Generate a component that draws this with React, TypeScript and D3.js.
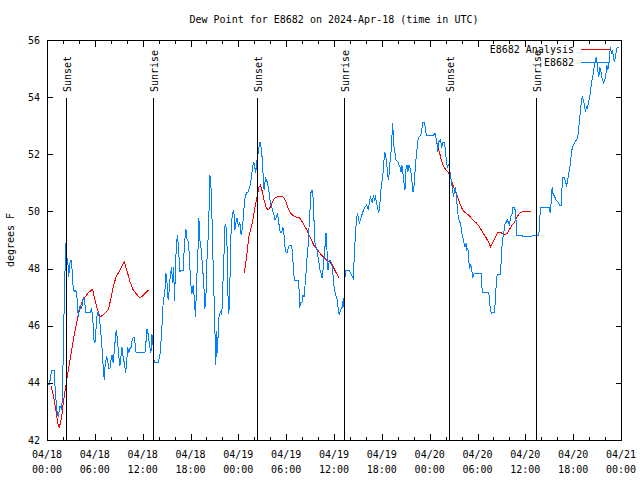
import React from "react";
import * as d3 from "d3";

const TITLE = "Dew Point for E8682 on 2024-Apr-18 (time in UTC)";
const Y_LABEL = "degrees F";
const START = Date.UTC(2024, 3, 18, 0, 0);
const END = Date.UTC(2024, 3, 21, 0, 0);
const yTicks = [42, 44, 46, 48, 50, 52, 54, 56];
const legendNames = ["E8682 Analysis", "E8682"];

const sunEvents = [
  { label: "Sunset", h: 2.33 },
  { label: "Sunrise", h: 13.33 },
  { label: "Sunset", h: 26.38 },
  { label: "Sunrise", h: 37.3 },
  { label: "Sunset", h: 50.45 },
  { label: "Sunrise", h: 61.38 },
];

// hours since 2024-04-18 00:00 UTC, dew point (F)
const analysisSeg1: [number, number][] = [[0.50,43.9],[0.79,43.57],[1.09,43.1],[1.34,42.6],[1.54,42.45],[1.72,42.63],[1.88,42.9],[2.04,43.28],[2.26,43.7],[2.47,44.1],[2.67,44.45],[2.88,44.8],[3.10,45.15],[3.30,45.5],[3.51,45.8],[3.72,46.1],[3.92,46.37],[4.14,46.6],[4.35,46.8],[4.55,46.97],[4.76,47.0],[5.18,47.15],[5.73,47.28],[6.01,46.9],[6.30,46.6],[6.64,46.3],[7.14,46.4],[7.68,46.55],[7.98,46.9],[8.31,47.36],[8.65,47.7],[9.15,47.95],[9.69,48.23],[10.06,47.9],[10.40,47.55],[10.81,47.25],[11.32,47.08],[11.65,46.97],[12.15,47.08],[12.74,47.25]];
const analysisSeg2: [number, number][] = [[24.72,47.84],[24.94,48.2],[25.15,48.7],[25.35,49.17],[25.78,49.63],[26.06,50.12],[26.35,50.5],[26.60,50.86],[26.78,50.92],[27.02,50.68],[27.23,50.4],[27.48,50.15],[27.73,50.05],[28.03,50.15],[28.28,50.33],[28.57,50.47],[28.86,50.5],[29.20,50.54],[29.61,50.5],[29.82,50.44],[30.11,50.22],[30.45,49.98],[30.79,49.87],[31.29,49.8],[31.70,49.77],[32.04,49.63],[32.33,49.46],[32.62,49.35],[32.87,49.17],[33.17,49.0],[33.46,48.82],[33.80,48.72],[34.12,48.58],[34.42,48.47],[34.71,48.4],[35.05,48.3],[35.46,48.23],[35.80,48.12],[36.09,47.95],[36.38,47.8],[36.63,47.67]];
const analysisSeg3: [number, number][] = [[48.87,52.43],[49.03,52.22],[49.25,52.05],[49.46,51.8],[49.66,51.63],[49.87,51.52],[50.08,51.45],[50.28,51.38],[50.50,51.28],[50.71,51.1],[50.91,50.92],[51.13,50.75],[51.34,50.64],[51.54,50.47],[51.75,50.3],[51.97,50.15],[52.17,50.05],[52.38,49.98],[52.59,49.94],[53.01,49.84],[53.42,49.7],[53.85,49.6],[54.26,49.46],[54.67,49.25],[55.10,49.07],[55.42,48.9],[55.64,48.76],[55.93,48.93],[56.23,49.1],[56.55,49.25],[56.98,49.25],[57.39,49.2],[57.73,49.22],[58.02,49.38],[58.36,49.53],[58.65,49.63],[58.93,49.8],[59.27,49.94],[59.68,50.0],[60.11,50.0],[60.73,50.0]];

const stationObs: [number, number][] = [[0.10,43.93],[0.29,43.93],[0.59,44.45],[0.88,44.45],[1.00,43.9],[1.22,43.05],[1.42,42.8],[1.63,43.2],[1.84,43.05],[1.97,43.75],[2.04,45.3],[2.17,46.8],[2.34,48.9],[2.47,48.2],[2.59,48.35],[2.72,47.7],[2.88,48.2],[3.01,48.3],[3.17,47.9],[3.30,47.25],[3.51,47.2],[3.63,47.25],[3.80,46.9],[3.92,46.3],[4.05,46.65],[4.22,46.7],[4.35,46.6],[4.47,46.9],[4.64,46.97],[4.76,46.75],[4.89,46.45],[5.10,46.45],[5.39,46.45],[5.60,46.6],[5.73,46.3],[5.89,45.5],[6.01,45.4],[6.14,45.85],[6.30,46.45],[6.43,46.45],[6.55,46.3],[6.73,45.85],[6.89,45.25],[7.05,44.55],[7.18,44.1],[7.31,44.7],[7.48,44.9],[7.61,44.8],[7.73,44.5],[7.89,44.5],[8.02,44.8],[8.15,44.97],[8.31,44.7],[8.43,45.1],[8.56,45.5],[8.68,45.85],[8.81,45.6],[8.98,45.0],[9.15,44.6],[9.27,44.9],[9.40,45.25],[9.56,44.9],[9.69,44.7],[9.86,44.35],[9.99,44.7],[10.11,45.25],[10.24,45.05],[10.40,45.2],[10.56,45.25],[10.69,45.5],[10.86,45.6],[10.99,45.6],[11.11,45.08],[11.44,45.05],[11.87,45.05],[12.28,45.05],[12.41,45.4],[12.53,45.9],[12.66,45.75],[12.78,45.5],[12.91,45.25],[13.03,45.05],[13.16,45.7],[13.28,45.4],[13.37,44.97],[13.45,44.73],[13.95,44.73],[14.16,44.97],[14.29,45.4],[14.41,45.95],[14.57,46.8],[14.79,47.2],[14.91,47.85],[15.04,47.55],[15.20,46.9],[15.33,47.25],[15.45,47.7],[15.63,48.06],[15.75,47.5],[15.88,48.06],[16.00,46.85],[16.13,48.2],[16.25,48.9],[16.38,49.17],[16.50,48.65],[16.67,47.9],[16.88,47.95],[17.08,47.95],[17.26,48.93],[17.42,49.4],[17.54,49.06],[17.76,48.9],[18.01,47.55],[18.17,47.1],[18.33,47.43],[18.46,47.0],[18.63,46.3],[18.76,47.5],[18.92,48.47],[19.05,49.77],[19.17,49.0],[19.34,48.7],[19.51,48.06],[19.67,47.43],[19.80,46.6],[19.92,46.9],[20.09,48.53],[20.26,49.3],[20.43,51.28],[20.55,51.0],[20.68,49.94],[20.80,48.54],[20.93,47.25],[21.05,45.96],[21.18,44.62],[21.27,45.8],[21.39,45.04],[21.52,46.2],[21.64,46.43],[21.77,46.48],[21.93,46.4],[22.05,47.36],[22.18,48.3],[22.31,49.46],[22.43,49.53],[22.56,49.1],[22.68,47.2],[22.81,46.4],[22.93,47.36],[23.06,49.1],[23.18,49.7],[23.31,49.98],[23.43,50.05],[23.56,49.35],[23.68,49.6],[23.85,49.77],[24.02,49.46],[24.18,49.63],[24.35,49.17],[24.52,49.42],[24.69,50.05],[24.85,50.5],[25.02,50.64],[25.23,50.68],[25.44,50.86],[25.65,51.2],[25.78,51.56],[25.94,51.73],[26.06,51.56],[26.19,51.33],[26.28,51.7],[26.44,51.97],[26.60,52.26],[26.73,52.43],[26.85,52.26],[26.98,51.9],[27.10,51.33],[27.23,50.75],[27.41,51.17],[27.53,51.1],[27.66,51.0],[27.78,50.82],[27.94,50.47],[28.07,50.22],[28.19,50.15],[28.36,49.98],[28.48,49.87],[28.61,49.7],[28.78,49.8],[28.91,49.94],[29.03,49.7],[29.16,49.42],[29.28,49.25],[29.45,49.25],[29.57,49.46],[29.70,49.28],[29.82,48.82],[29.99,48.58],[30.16,48.58],[30.29,48.76],[30.41,48.82],[30.66,48.82],[30.79,48.58],[30.91,47.95],[31.04,47.6],[31.54,47.6],[31.62,47.25],[31.70,46.62],[31.83,46.83],[31.99,46.83],[32.12,47.08],[32.24,47.0],[32.37,47.43],[32.49,47.84],[32.62,48.4],[32.74,48.76],[32.87,49.46],[32.99,50.05],[33.12,50.68],[33.24,50.75],[33.37,50.5],[33.50,49.63],[33.62,48.9],[33.75,48.76],[33.87,48.65],[34.00,48.4],[34.12,48.2],[34.25,47.95],[34.37,47.84],[34.50,47.67],[34.62,47.95],[34.75,48.4],[34.87,48.76],[35.00,49.25],[35.12,48.65],[35.25,47.95],[35.37,48.2],[35.50,48.3],[35.68,48.2],[35.80,48.0],[35.93,47.6],[36.05,47.25],[36.30,47.0],[36.43,46.9],[36.55,46.48],[36.68,46.37],[36.80,46.55],[37.05,46.65],[37.18,46.97],[37.25,46.65],[37.34,47.6],[37.47,47.95],[37.88,47.95],[38.09,47.84],[38.31,47.7],[38.43,47.65],[38.47,47.95],[38.56,48.54],[38.68,49.17],[38.81,49.7],[38.93,49.94],[39.06,49.77],[39.18,49.6],[39.43,49.8],[39.56,49.94],[39.72,50.05],[39.89,50.15],[40.06,50.22],[40.19,50.15],[40.31,50.05],[40.44,50.33],[40.56,50.5],[40.69,50.4],[40.81,50.3],[40.94,50.57],[41.06,50.4],[41.19,50.5],[41.31,50.33],[41.48,50.1],[41.60,49.94],[41.73,50.15],[41.85,50.64],[41.98,51.0],[42.10,51.2],[42.23,51.63],[42.35,52.08],[42.48,51.97],[42.61,51.7],[42.73,51.28],[42.86,51.1],[42.98,51.63],[43.11,51.9],[43.23,52.4],[43.36,53.1],[43.44,52.6],[43.52,52.26],[43.65,52.05],[43.77,51.8],[44.02,51.73],[44.27,51.56],[44.40,51.38],[44.52,51.63],[44.65,51.33],[44.77,51.03],[44.90,50.75],[45.02,51.45],[45.15,51.63],[45.27,51.38],[45.40,51.63],[45.53,51.52],[45.65,51.38],[45.78,51.03],[45.90,50.68],[46.03,50.86],[46.15,51.33],[46.28,51.8],[46.40,52.15],[46.53,52.5],[46.65,52.6],[46.90,52.67],[47.03,52.92],[47.15,53.1],[47.33,53.1],[47.46,52.92],[47.58,52.67],[48.50,52.67],[48.66,52.74],[48.78,52.6],[48.91,52.43],[49.00,52.08],[49.12,52.43],[49.37,52.5],[49.50,52.22],[49.62,52.4],[49.87,52.4],[50.00,52.05],[50.12,51.7],[50.25,51.56],[50.50,51.7],[50.55,51.38],[50.66,51.17],[50.79,50.92],[50.91,50.68],[51.00,50.5],[51.13,50.75],[51.25,50.82],[51.34,50.57],[51.46,50.15],[51.59,49.8],[51.75,49.63],[51.88,49.6],[52.00,49.28],[52.13,49.1],[52.25,49.0],[52.38,48.76],[52.47,48.76],[52.59,48.9],[52.67,48.65],[52.80,48.7],[52.88,48.37],[53.01,48.0],[53.13,48.12],[53.26,48.06],[53.38,47.67],[53.51,47.78],[53.63,47.84],[54.47,47.84],[54.55,47.36],[54.67,47.15],[55.42,47.15],[55.51,46.9],[55.60,46.6],[55.72,46.44],[56.14,46.48],[56.26,47.0],[56.39,47.7],[56.55,47.78],[56.85,47.78],[56.93,48.06],[57.02,48.54],[57.10,48.9],[57.23,49.17],[57.35,49.35],[57.48,49.6],[57.60,49.6],[57.73,49.7],[57.86,49.63],[57.98,49.53],[58.11,49.7],[58.23,49.87],[58.36,49.94],[58.43,50.15],[58.68,50.15],[58.77,49.87],[58.86,49.6],[58.93,49.17],[60.11,49.12],[60.52,49.12],[61.36,49.17],[61.69,49.17],[61.90,50.15],[63.03,50.12],[63.12,49.94],[63.19,50.15],[63.28,50.5],[63.37,50.86],[63.45,50.64],[63.57,50.57],[63.70,50.5],[63.87,50.4],[64.16,50.3],[64.28,50.22],[64.50,50.22],[64.57,50.64],[64.66,51.2],[64.91,51.2],[65.04,51.03],[65.16,50.92],[65.29,51.03],[65.41,51.28],[65.54,51.45],[65.66,51.73],[65.79,52.05],[65.91,52.26],[66.04,52.33],[66.16,52.4],[66.41,52.5],[66.54,52.55],[66.66,52.78],[66.79,53.2],[66.92,53.55],[67.04,53.9],[67.17,54.0],[67.29,53.9],[67.42,53.73],[67.54,53.48],[67.67,53.66],[67.79,53.62],[67.92,53.83],[68.04,53.97],[68.17,54.18],[68.29,54.5],[68.42,54.67],[68.54,54.85],[68.67,55.12],[68.80,55.3],[68.88,55.4],[69.01,55.2],[69.08,54.95],[69.21,54.7],[69.34,55.05],[69.46,54.95],[69.59,54.7],[69.71,54.6],[69.84,54.5],[69.96,54.6],[70.09,54.77],[70.21,55.12],[70.34,54.95],[70.46,55.12],[70.55,55.4],[70.67,55.75],[70.80,55.53],[70.93,55.65],[71.05,55.4],[71.18,55.23],[71.30,55.4],[71.43,55.65],[71.55,55.75],[71.80,55.75]];

const RED = "#ff0000";
const BLUE = "#0080ff";
const FONT = "'DejaVu Sans Mono', monospace";

export default function App() {
  const W = 640, H = 480;
  const L = 47, R = 621, T = 40, B = 440;
  const x = d3.scaleUtc().domain([new Date(START), new Date(END)]).range([L, R]);
  const y = d3.scaleLinear().domain([42, 56]).range([B, T]);
  const toDate = (h: number) => new Date(START + h * 3600000);
  const line = d3.line<[number, number]>().x(d => x(toDate(d[0]))).y(d => y(d[1]));

  const majors = x.ticks(d3.utcHour.every(6)!);
  const minors = x.ticks(d3.utcHour.every(2)!);
  const fmtD = d3.utcFormat("%m/%d");
  const fmtT = d3.utcFormat("%H:%M");
  const px = (v: number) => Math.round(v) + 0.5;

  return (
    <svg width={W} height={H} style={{ position: "absolute", left: 0, top: 0, background: "#fff" }}
      fontFamily={FONT} fontSize={10}>
      <rect x={0} y={0} width={W} height={H} fill="#fff" />
      <text x={(L + R) / 2} y={23} textAnchor="middle">{TITLE}</text>

      {/* data */}
      {[analysisSeg1, analysisSeg2, analysisSeg3].map((seg, i) => (
        <path key={"a" + i} d={line(seg) || ""} fill="none" stroke={RED} strokeWidth={1} shapeRendering="crispEdges" />
      ))}
      <path d={line(stationObs) || ""} fill="none" stroke={BLUE} strokeWidth={1} shapeRendering="crispEdges" />

      {/* sun events */}
      {sunEvents.map((e, i) => {
        const xx = px(x(toDate(e.h)));
        return (
          <g key={"s" + i}>
            <line x1={xx} x2={xx} y1={98} y2={B} stroke="#000" strokeWidth={1} shapeRendering="crispEdges" />
            <text transform={`translate(${xx + 4.5},92) rotate(-90)`} textAnchor="start">{e.label}</text>
          </g>
        );
      })}

      {/* frame */}
      <rect x={L + 0.5} y={T + 0.5} width={R - L} height={B - T} fill="none" stroke="#000" strokeWidth={1} shapeRendering="crispEdges" />

      {/* y ticks */}
      {yTicks.map(v => {
        const yy = px(y(v));
        return (
          <g key={"y" + v}>
            <line x1={L} x2={L + 6} y1={yy} y2={yy} stroke="#000" shapeRendering="crispEdges" />
            <line x1={R + 1} x2={R - 5} y1={yy} y2={yy} stroke="#000" shapeRendering="crispEdges" />
            <text x={40} y={y(v) + 3.5} textAnchor="end">{v}</text>
          </g>
        );
      })}

      {/* x ticks */}
      {minors.map((d, i) => {
        const xx = px(x(d));
        const major = d.getUTCHours() % 6 === 0;
        const len = major ? 6 : 3;
        return (
          <g key={"x" + i}>
            <line x1={xx} x2={xx} y1={B + 0.5} y2={B - len} stroke="#000" shapeRendering="crispEdges" />
            <line x1={xx} x2={xx} y1={T + 0.5} y2={T + len + 1} stroke="#000" shapeRendering="crispEdges" />
          </g>
        );
      })}
      {majors.map((d, i) => (
        <text key={"xl" + i} x={x(d)} textAnchor="middle">
          <tspan x={x(d)} y={458}>{fmtD(d)}</tspan>
          <tspan x={x(d)} y={473}>{fmtT(d)}</tspan>
        </text>
      ))}

      <text transform="translate(14,240) rotate(-90)" textAnchor="middle">{Y_LABEL}</text>

      {/* legend */}
      <text x={574} y={53} textAnchor="end">{legendNames[0]}</text>
      <line x1={581} x2={610} y1={49.5} y2={49.5} stroke={RED} shapeRendering="crispEdges" />
      <text x={574} y={66} textAnchor="end">{legendNames[1]}</text>
      <line x1={581} x2={610} y1={62.5} y2={62.5} stroke={BLUE} shapeRendering="crispEdges" />
    </svg>
  );
}
